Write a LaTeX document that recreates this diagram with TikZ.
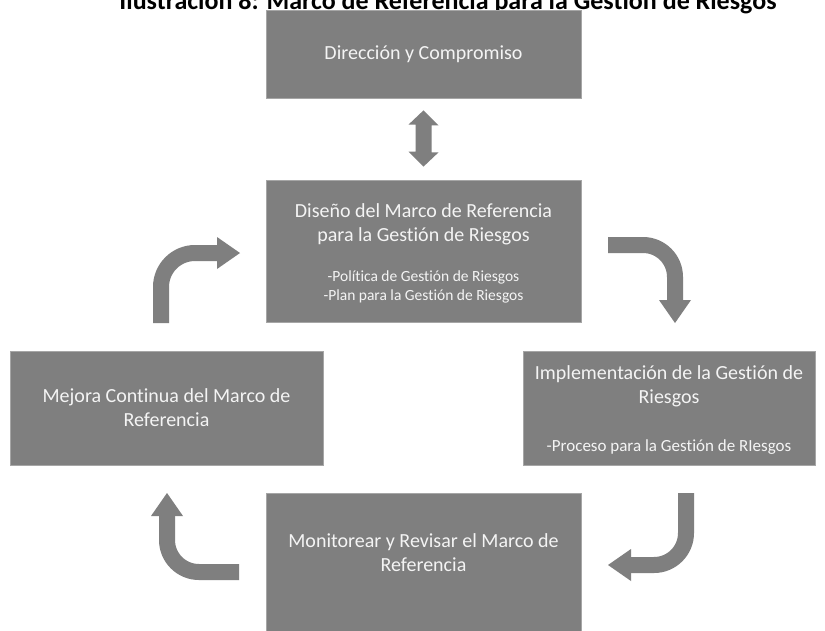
\documentclass[tikz,border=0pt]{standalone}
\usepackage{fontspec}
\setmainfont[Ligatures=NoCommon]{Carlito}
\definecolor{boxgray}{HTML}{7F7F7F}
\definecolor{boxedge}{HTML}{A6A6A6}
\definecolor{txtwhite}{HTML}{F4F4F4}
\tikzset{
  graybox/.style={fill=boxgray, draw=boxedge, line width=0.8pt, minimum width=315pt, inner sep=0pt},
  bigtxt/.style={text=txtwhite, font=\fontsize{20}{24}\selectfont, align=center, inner sep=0pt},
  smalltxt/.style={text=txtwhite, font=\fontsize{15.5}{19.5}\selectfont, align=center, inner sep=0pt},
  bendshaft/.style={draw=boxgray, line width=16pt, line cap=butt},
  arrowhead/.style={fill=boxgray, draw=none}
}
\begin{document}
\begin{tikzpicture}[x=1pt,y=-1pt]
\useasboundingbox (0,0) rectangle (825,630);
\clip (0,0) rectangle (825,630);
\fill[white] (0,0) rectangle (825,630);
% title (cut off at top)
\node[anchor=base, font=\fontsize{26}{30}\selectfont\bfseries, inner sep=0pt] (title) at (448,9.5) {Ilustración 8: Marco de Referencia para la Gestión de Riesgos};
% boxes
\node[graybox, minimum height=88pt] (dir) at (423.5,54) {};
\node[graybox, minimum height=142pt] (dis) at (423.5,251) {};
\node[graybox, minimum width=313pt, minimum height=114pt] (mej) at (166.5,408) {};
\node[graybox, minimum width=292pt, minimum height=114pt] (imp) at (669,408) {};
\node[graybox, minimum height=150pt] (mon) at (423.5,568) {};
% texts
\node[bigtxt] (tdir) at (dir.center) {Dirección y Compromiso};
\node[bigtxt] (tdis) at (423.5,224.5) {Diseño del Marco de Referencia\\para la Gestión de Riesgos};
\node[smalltxt] (tdis2) at (423.5,287) {-Política de Gestión de Riesgos\\-Plan para la Gestión de Riesgos};
\node[bigtxt] (tmej) at (166.5,408) {Mejora Continua del Marco de\\Referencia};
\node[bigtxt] (timp) at (669,386) {Implementación de la Gestión de\\Riesgos};
\node[smalltxt, font=\fontsize{17}{20}\selectfont] (timp2) at (669,447) {-Proceso para la Gestión de RIesgos};
\node[bigtxt] (tmon) at (423.5,553) {Monitorear y Revisar el Marco de\\Referencia};
% double arrow between dir and dis
\fill[boxgray] ([yshift=-12pt]dir.south) -- ++(15,15) -- ++(-7,0) -- ++(0,27) -- ++(7,0)
  -- ([yshift=13pt]dis.north) -- ++(-15,-15) -- ++(7,0) -- ++(0,-27) -- ++(-7,0) -- cycle;
% curved arrows
\coordinate (a1s) at (161,323);
\coordinate (a1e) at (218,253);
\draw[bendshaft, rounded corners=34pt] (a1s) -- (161,253) -- (a1e);
\fill[arrowhead] (217,237) -- (240,253) -- (217,269) -- cycle;
\coordinate (a2s) at (608,245);
\coordinate (a2e) at (675,301);
\draw[bendshaft, rounded corners=32pt] (a2s) -- (675,245) -- (a2e);
\fill[arrowhead] (659,300) -- (691,300) -- (675,323) -- cycle;
\coordinate (a3s) at (686,493);
\coordinate (a3e) at (630,565);
\draw[bendshaft, rounded corners=32pt] (a3s) -- (686,565) -- (a3e);
\fill[arrowhead] (631,549) -- (608,565) -- (631,581) -- cycle;
\coordinate (a4s) at (239,572);
\coordinate (a4e) at (167,515);
\draw[bendshaft, rounded corners=32pt] (a4s) -- (167,572) -- (a4e);
\fill[arrowhead] (151,516) -- (183,516) -- (167,493) -- cycle;
\end{tikzpicture}
\end{document}
